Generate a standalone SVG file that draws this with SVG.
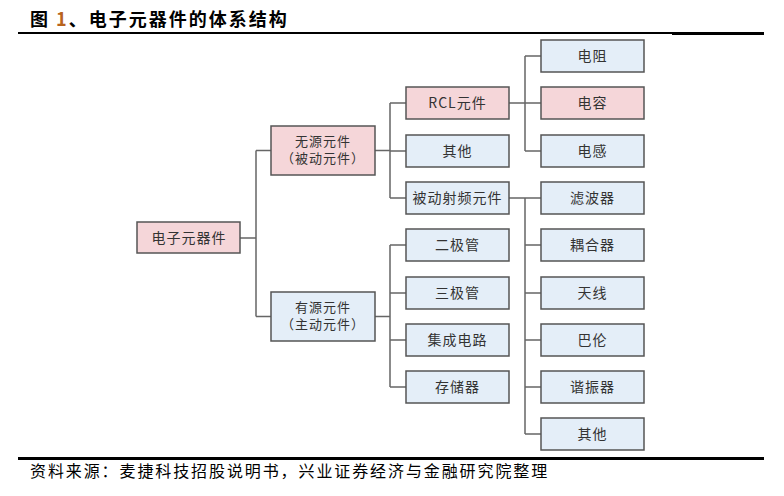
<svg xmlns="http://www.w3.org/2000/svg" width="784" height="496" viewBox="0 0 784 496">
<style>
.box{stroke:#555;stroke-width:1.5}
.pink{fill:#f5d6d9}
.blue{fill:#e4eef8}
.lbl{font-family:"Noto Sans CJK SC","Noto Sans",sans-serif;font-size:14px;fill:#333;text-anchor:middle;letter-spacing:1px}
.two{font-size:13px}
.con{stroke:#666;stroke-width:1.5;fill:none}
.title{font-family:"Noto Sans CJK SC",sans-serif;font-size:18px;font-weight:bold;fill:#000;letter-spacing:2px}
.foot{font-family:"Noto Sans CJK SC",sans-serif;font-size:16px;fill:#000;letter-spacing:1.9px}
</style>
<rect width="784" height="496" fill="#fff"/>
<text class="title" x="30" y="26">图 <tspan fill="#b8641e">1</tspan>、电子元器件的体系结构</text>
<rect x="18" y="32" width="654" height="2" fill="#000"/>
<rect x="672" y="32" width="92" height="3" fill="#000"/>
<g id="connectors">
<path class="con" d="M240 238H256M256 150.5V316.5M256 150.5H271M256 316.5H271"/>
<path class="con" d="M375 150.5H390M390 103V198M390 103H406M390 151H406M390 198H406"/>
<path class="con" d="M375 316.5H390M390 245V387M390 245H406M390 293H406M390 340H406M390 387H406"/>
<path class="con" d="M509 103H541M525 56V151M525 56H541M525 151H541"/>
<path class="con" d="M509 198H541M525 198V434M525 245H541M525 293H541M525 340H541M525 387H541M525 434H541"/>
</g>
<g id="n-root"><rect class="box pink" x="137" y="222" width="103" height="31"/><text class="lbl" x="189" y="243">电子元器件</text></g>
<g id="n-passive"><rect class="box pink" x="271" y="126" width="104" height="49"/><text class="lbl two" x="323" y="145.5">无源元件</text><text class="lbl two" x="323" y="163">（被动元件）</text></g>
<g id="n-active"><rect class="box blue" x="271" y="292" width="104" height="49"/><text class="lbl two" x="323" y="311.5">有源元件</text><text class="lbl two" x="323" y="329">（主动元件）</text></g>
<g id="n-rcl"><rect class="box pink" x="406" y="87" width="103" height="32"/><text class="lbl" x="457.5" y="108">RCL元件</text></g>
<g id="n-other1"><rect class="box blue" x="406" y="135" width="103" height="32"/><text class="lbl" x="457.5" y="156">其他</text></g>
<g id="n-rf"><rect class="box blue" x="406" y="182" width="103" height="32"/><text class="lbl" x="457.5" y="203">被动射频元件</text></g>
<g id="n-diode"><rect class="box blue" x="406" y="229" width="103" height="32"/><text class="lbl" x="457.5" y="250">二极管</text></g>
<g id="n-triode"><rect class="box blue" x="406" y="277" width="103" height="32"/><text class="lbl" x="457.5" y="298">三极管</text></g>
<g id="n-ic"><rect class="box blue" x="406" y="324" width="103" height="32"/><text class="lbl" x="457.5" y="345">集成电路</text></g>
<g id="n-mem"><rect class="box blue" x="406" y="371" width="103" height="32"/><text class="lbl" x="457.5" y="392">存储器</text></g>
<g id="n-res"><rect class="box blue" x="541" y="40" width="103" height="32"/><text class="lbl" x="592.5" y="61">电阻</text></g>
<g id="n-cap"><rect class="box pink" x="541" y="87" width="103" height="32"/><text class="lbl" x="592.5" y="108">电容</text></g>
<g id="n-ind"><rect class="box blue" x="541" y="135" width="103" height="32"/><text class="lbl" x="592.5" y="156">电感</text></g>
<g id="n-filter"><rect class="box blue" x="541" y="182" width="103" height="32"/><text class="lbl" x="592.5" y="203">滤波器</text></g>
<g id="n-coupler"><rect class="box blue" x="541" y="229" width="103" height="32"/><text class="lbl" x="592.5" y="250">耦合器</text></g>
<g id="n-antenna"><rect class="box blue" x="541" y="277" width="103" height="32"/><text class="lbl" x="592.5" y="298">天线</text></g>
<g id="n-balun"><rect class="box blue" x="541" y="324" width="103" height="32"/><text class="lbl" x="592.5" y="345">巴伦</text></g>
<g id="n-reson"><rect class="box blue" x="541" y="371" width="103" height="32"/><text class="lbl" x="592.5" y="392">谐振器</text></g>
<g id="n-other2"><rect class="box blue" x="541" y="418" width="103" height="32"/><text class="lbl" x="592.5" y="439">其他</text></g>
<rect x="18" y="457" width="746" height="3" fill="#000"/>
<text class="foot" x="30" y="477">资料来源：麦捷科技招股说明书，兴业证券经济与金融研究院整理</text>
</svg>
